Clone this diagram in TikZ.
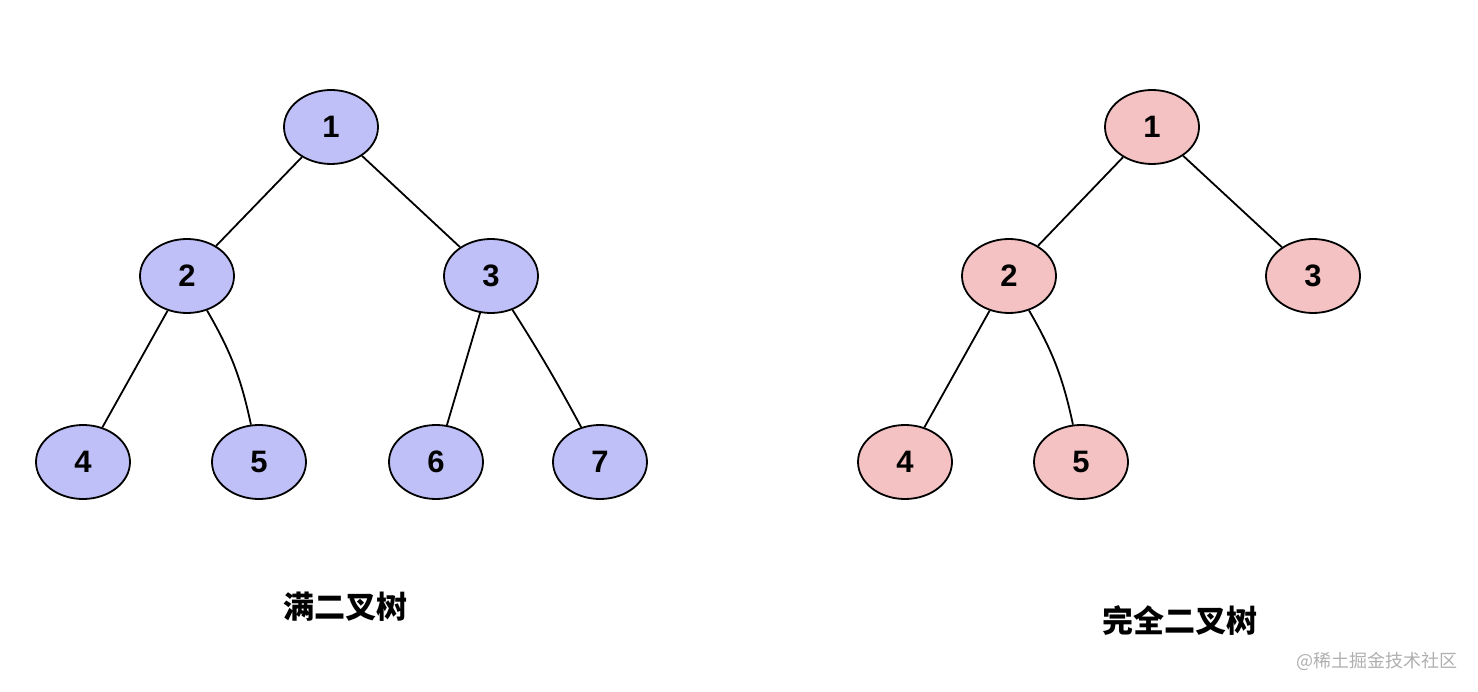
\documentclass[tikz,border=0pt]{standalone}
\usepackage{fontspec}
\usetikzlibrary{shapes.geometric}
\setmainfont{Liberation Sans}
\newfontfamily\cjk{Noto Sans CJK SC}
\definecolor{fullfill}{RGB}{192,192,248}
\definecolor{compfill}{RGB}{244,194,194}
\definecolor{wmgray}{RGB}{175,175,175}
\begin{document}
\begin{tikzpicture}[x=1pt,y=-1pt,
  tnode/.style={ellipse,draw=black,line width=1.8pt,minimum width=94pt,minimum height=74pt,inner sep=0pt,font=\fontsize{31}{31}\selectfont\bfseries},
  fullnode/.style={tnode,fill=fullfill},
  compnode/.style={tnode,fill=compfill},
  edge/.style={line width=1.8pt},
  title/.style={font=\cjk\bfseries\fontsize{31}{31}\selectfont}
]
\useasboundingbox (0,0) rectangle (1478,692);
% full binary tree
\node[fullnode] (a1) at (331,127) {1};
\node[fullnode] (a2) at (187,276) {2};
\node[fullnode] (a3) at (491,276) {3};
\node[fullnode] (a4) at (83,462) {4};
\node[fullnode] (a5) at (259,462) {5};
\node[fullnode] (a6) at (436,462) {6};
\node[fullnode] (a7) at (600,462) {7};
\draw[edge] (a1) -- (a2);
\draw[edge] (a1) -- (a3);
\draw[edge] (a2) -- (a4);
\draw[edge] (a2) to[bend left=9] (a5);
\draw[edge] (a3) -- (a6);
\draw[edge] (a3) to[bend left=2] (a7);
% complete binary tree
\node[compnode] (b1) at (1152,127) {1};
\node[compnode] (b2) at (1009,276) {2};
\node[compnode] (b3) at (1313,276) {3};
\node[compnode] (b4) at (905,462) {4};
\node[compnode] (b5) at (1081,462) {5};
\draw[edge] (b1) -- (b2);
\draw[edge] (b1) -- (b3);
\draw[edge] (b2) -- (b4);
\draw[edge] (b2) to[bend left=9] (b5);
% titles
\node[title] (t1) at (345,607) {满二叉树};
\node[title] (t2) at (1180,621) {完全二叉树};
\node[font=\cjk\fontsize{18}{18}\selectfont,text=wmgray] (wm) at (1377,661) {@稀土掘金技术社区};
\end{tikzpicture}
\end{document}
